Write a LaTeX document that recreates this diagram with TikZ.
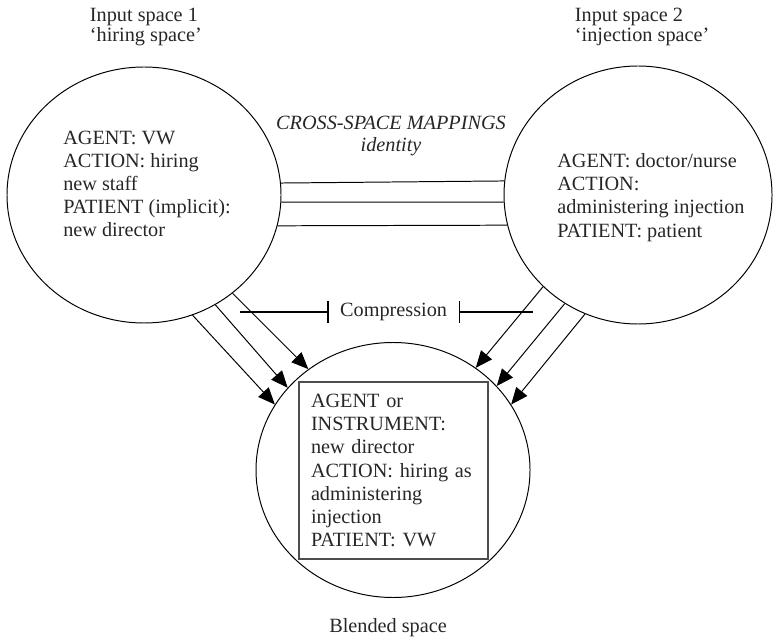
\documentclass[tikz,border=0pt]{standalone}
\usepackage{fontspec}
\setmainfont{Liberation Serif}
\usetikzlibrary{arrows.meta,shapes.geometric}

\definecolor{inkGray}{HTML}{262626}
\definecolor{boxGray}{HTML}{4D4D4D}

\begin{document}
\begin{tikzpicture}[scale=1.0, every node/.style={font=\fontsize{14.4}{16.4}\selectfont, text=inkGray},
        mentalspace/.style={draw, ellipse, line width=0.7pt, inner sep=0pt},
        mapline/.style={line width=0.7pt},
        projection/.style={line width=0.7pt, -{Triangle[length=12pt, width=10pt]}},
        compressbar/.style={line width=1.4pt, -{Bar[width=15pt]}}]
        \useasboundingbox (0,0) rectangle (19.325,-15.975);

        % The three mental spaces.
        \node[mentalspace, minimum width=6.85cm, minimum height=6.4cm] (in1) at (3.6,-4.875) {};
        \node[mentalspace, minimum width=6.7cm, minimum height=6.45cm] (in2) at (15.95,-4.875) {};
        \node[mentalspace, minimum width=6.85cm, minimum height=6.375cm] (bl) at (9.825,-11.75) {};

        % Titles.
        \node[anchor=west, align=left, font=\fontsize{14.4}{14.6}\selectfont] (t1) at (2.125,-0.675)
            {Input space 1\\‘hiring space’};
        \node[anchor=west, align=left, font=\fontsize{14.4}{14.6}\selectfont] (t2) at (14.25,-0.675)
            {Input space 2\\‘injection space’};
        \node (tb) at (9.7,-15.7) {Blended space};

        % Contents of the input spaces.
        \node[anchor=west, align=left, inner sep=0pt] (txt1) at (1.575,-4.59)
            {AGENT: VW\\ACTION: hiring\\new staff\\PATIENT (implicit):\\new director};
        \node[anchor=west, align=left, inner sep=0pt] (txt2) at (13.925,-4.94)
            {AGENT: doctor/nurse\\ACTION:\\administering injection\\PATIENT: patient};

        % Blend.
        \node[draw=boxGray, line width=0.9pt, align=left, text width=4.125cm, inner xsep=0.3cm,
            minimum height=4.425cm] (blend) at (9.8375,-11.7625)
            {AGENT or\\INSTRUMENT:\\new director\\ACTION: hiring as\\administering\\injection\\PATIENT: VW};

        % Cross-space mappings.
        \node[align=center, font=\fontsize{14.4}{15.6}\selectfont\itshape] (csm) at (9.775,-3.4)
            {CROSS-SPACE MAPPINGS\\identity};
        \draw[mapline] (in1.5.45) -- (in2.174.43);
        \draw[mapline] (in1.-3.35) -- (in2.183.42);
        \draw[mapline] (in1.-13.13) -- (in2.193.4);

        % Projections into the blend.
        \draw[projection] (in1.-68) -- (bl.151.4);
        \draw[projection] (in1.-57.2) -- (bl.142);
        \draw[projection] (in1.-48.1) -- (bl.130.7);
        \draw[projection] (in2.224.7) -- (bl.51.7);
        \draw[projection] (in2.236.6) -- (bl.39.9);
        \draw[projection] (in2.246.8) -- (bl.29.7);

        % Compression.
        \node[inner xsep=0.28cm] (comp) at (9.84,-7.8) {Compression};
        \coordinate (cl) at (6.0,-7.8);
        \coordinate (cr) at (13.325,-7.8);
        \draw[compressbar] (cl) -- (comp.west);
        \draw[compressbar] (cr) -- (comp.east);
    \end{tikzpicture}
\end{document}
